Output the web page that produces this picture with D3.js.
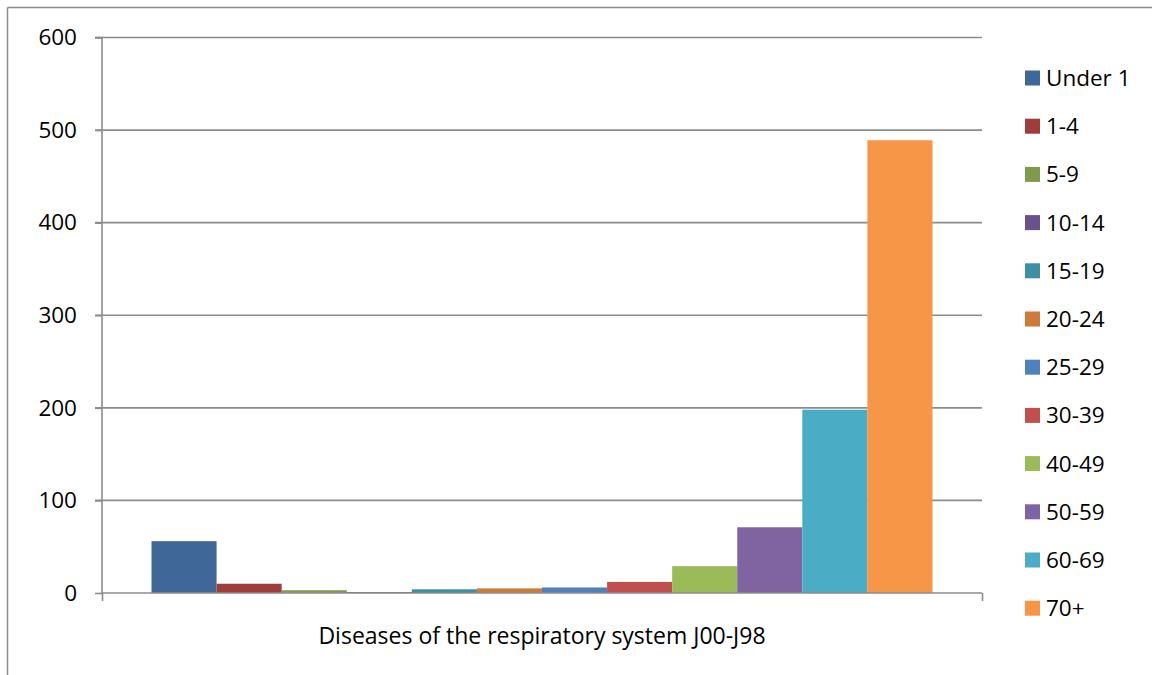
<!DOCTYPE html>
<html><head><meta charset="utf-8">
<script src="https://cdn.jsdelivr.net/npm/d3@7"></script>
<style>body{margin:0;background:#fff}svg{display:block}text{font-family:"Open Sans",sans-serif;fill:#000}</style>
</head><body><svg id="c" width="1152" height="675"></svg>
<script>
const categories = ["Diseases of the respiratory system J00-J98"];
const series = ["Under 1","1-4","5-9","10-14","15-19","20-24","25-29","30-39","40-49","50-59","60-69","70+"];
const values = [56, 10, 3, 1, 4, 5, 6, 12, 29, 71, 198, 489];
const colors = ["#3F6898","#9E3D3A","#7F9A48","#69518A","#3D8FA4","#CC7B38","#4F81BD","#C0504D","#9BBB59","#8064A2","#4BACC6","#F79646"];
const yTicks = [0,100,200,300,400,500,600];

const svg = d3.select("#c");
const L = 102, R = 982, T = 37.5, B = 593;
const y = d3.scaleLinear().domain([0,600]).range([B,T]);
const x0 = d3.scaleBand().domain(categories).range([L,R]).paddingOuter(0.0634).paddingInner(0);
const x1 = d3.scaleBand().domain(series).range([0,x0.bandwidth()]).padding(0);

// frame
svg.append("line").attr("x1",7.5).attr("x2",1152).attr("y1",7.5).attr("y2",7.5).attr("stroke","#8a8a8a").attr("stroke-width",1.5);
svg.append("line").attr("x1",7.5).attr("x2",7.5).attr("y1",7.5).attr("y2",675).attr("stroke","#8a8a8a").attr("stroke-width",1.5);

// gridlines
svg.append("g").selectAll("line").data(yTicks.filter(d=>d>0)).join("line")
  .attr("x1",L-7).attr("x2",R).attr("y1",d=>y(d)).attr("y2",d=>y(d))
  .attr("stroke","#8c8c8c").attr("stroke-width",1.6);

// y axis
const ya = svg.append("g").attr("transform",`translate(${L},0)`)
  .call(d3.axisLeft(y).tickValues(yTicks).tickSize(7).tickPadding(18));
ya.select(".domain").attr("stroke","#8c8c8c").attr("stroke-width",1.6).attr("d",`M-7,${T}H0V${B}`);
ya.selectAll(".tick line").attr("stroke","#8c8c8c").attr("stroke-width",1.6);
ya.selectAll(".tick text").style("font-size","22.5px").attr("fill","#000");

// bars
svg.append("g").selectAll("rect").data(series.map((s,i)=>({s,v:values[i],c:colors[i]}))).join("rect")
  .attr("x",d=>x0(categories[0])+x1(d.s)).attr("width",x1.bandwidth())
  .attr("y",d=>y(d.v)).attr("height",d=>B-y(d.v)).attr("fill",d=>d.c);

// x axis
const xa = svg.append("g").attr("transform",`translate(0,${B})`)
  .call(d3.axisBottom(d3.scaleLinear().domain([0,1]).range([L,R])).tickValues([0,1]).tickSize(8).tickFormat(""));
xa.select(".domain").attr("stroke","#8c8c8c").attr("stroke-width",1.6).attr("d",`M${L},0H${R}`);
xa.selectAll(".tick line").attr("stroke","#8c8c8c").attr("stroke-width",1.6);
svg.append("text").attr("x",x0(categories[0])+x0.bandwidth()/2).attr("y",644)
  .attr("text-anchor","middle").style("font-size","23px").text(categories[0]);

// legend
const lg = svg.append("g").selectAll("g").data(series).join("g")
  .attr("transform",(d,i)=>`translate(1025,${78+i*48.2})`);
lg.append("rect").attr("x",0).attr("y",-7.5).attr("width",15).attr("height",15).attr("fill",(d,i)=>colors[i]);
lg.append("text").attr("x",21).attr("y",8).style("font-size","22.5px").text(d=>d);
</script></body></html>
